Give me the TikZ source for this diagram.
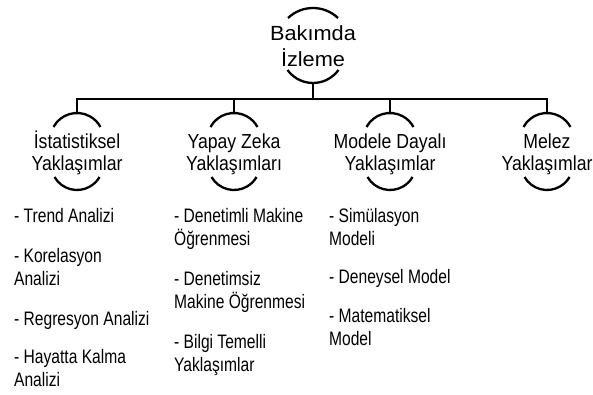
\documentclass[tikz,border=0pt]{standalone}
\usepackage{fontspec}
\setmainfont{Liberation Sans}
\newfontfamily\rootfont[FakeStretch=1.06]{Liberation Sans}
\newfontfamily\catfont[FakeStretch=0.87]{Liberation Sans}
\newfontfamily\listfont[FakeStretch=0.8]{Liberation Sans}

\begin{document}
% multi-line labels are placed by the baseline of their last line
\begin{tikzpicture}[x=1pt,y=-1pt,line width=2.3pt,
  rootlabel/.style={font=\rootfont\fontsize{20.5}{26}\selectfont, align=center, inner sep=0pt, anchor=base},
  catlabel/.style={font=\catfont\fontsize{20.3}{22}\selectfont, align=center, inner sep=0pt, anchor=base},
  itemlabel/.style={font=\listfont\fontsize{19.5}{23}\selectfont, align=left, inner sep=0pt, anchor=base west}]
\useasboundingbox (0,0) rectangle (593,394);

% root
\node[rootlabel] (root) at (313,66) {Bakımda\\İzleme};
\draw (288,18) arc[start angle=226.4,end angle=313.6,radius=36.25];
\draw (287.5,70) arc[start angle=144,end angle=36,radius=31.5];
\coordinate (rbot) at (313,83);
\coordinate (bus) at (313,99);

% categories with their caps
\node[catlabel] (c1) at (77,170) {İstatistiksel\\Yaklaşımlar};
\node[catlabel] (c2) at (234,170) {Yapay Zeka\\Yaklaşımları};
\node[catlabel] (c3) at (390,170) {Modele Dayalı\\Yaklaşımlar};
\node[catlabel] (c4) at (547,170) {Melez\\Yaklaşımlar};
\foreach \n/\x in {c1/77,c2/234,c3/390,c4/547} {
  \coordinate (\n-top) at (\x,113);
  \draw (\x-23.5,127) arc[start angle=208.4,end angle=331.6,radius=26.7];
  \draw (\x-22.5,177) arc[start angle=150,end angle=30,radius=26];
}

% tree connectors
\draw (rbot) -- (bus);
\draw (c1-top) |- (bus) -| (c4-top);
\draw (c2-top) -- (c2-top |- bus);
\draw (c3-top) -- (c3-top |- bus);

% lists
\node[itemlabel] (s1) at (13,222) {- Trend Analizi};
\node[itemlabel] (s2) at (13,285) {- Korelasyon\\Analizi};
\node[itemlabel] (s3) at (13,325) {- Regresyon Analizi};
\node[itemlabel] (s4) at (13,386) {- Hayatta Kalma\\Analizi};

\node[itemlabel] (a1) at (173,245) {- Denetimli Makine\\Öğrenmesi};
\node[itemlabel] (a2) at (173,308) {- Denetimsiz\\Makine Öğrenmesi};
\node[itemlabel] (a3) at (173,371) {- Bilgi Temelli\\Yaklaşımlar};

\node[itemlabel] (m1) at (328,245) {- Simülasyon\\Modeli};
\node[itemlabel] (m2) at (328,283) {- Deneysel Model};
\node[itemlabel] (m3) at (328,345) {- Matematiksel\\Model};
\end{tikzpicture}
\end{document}
